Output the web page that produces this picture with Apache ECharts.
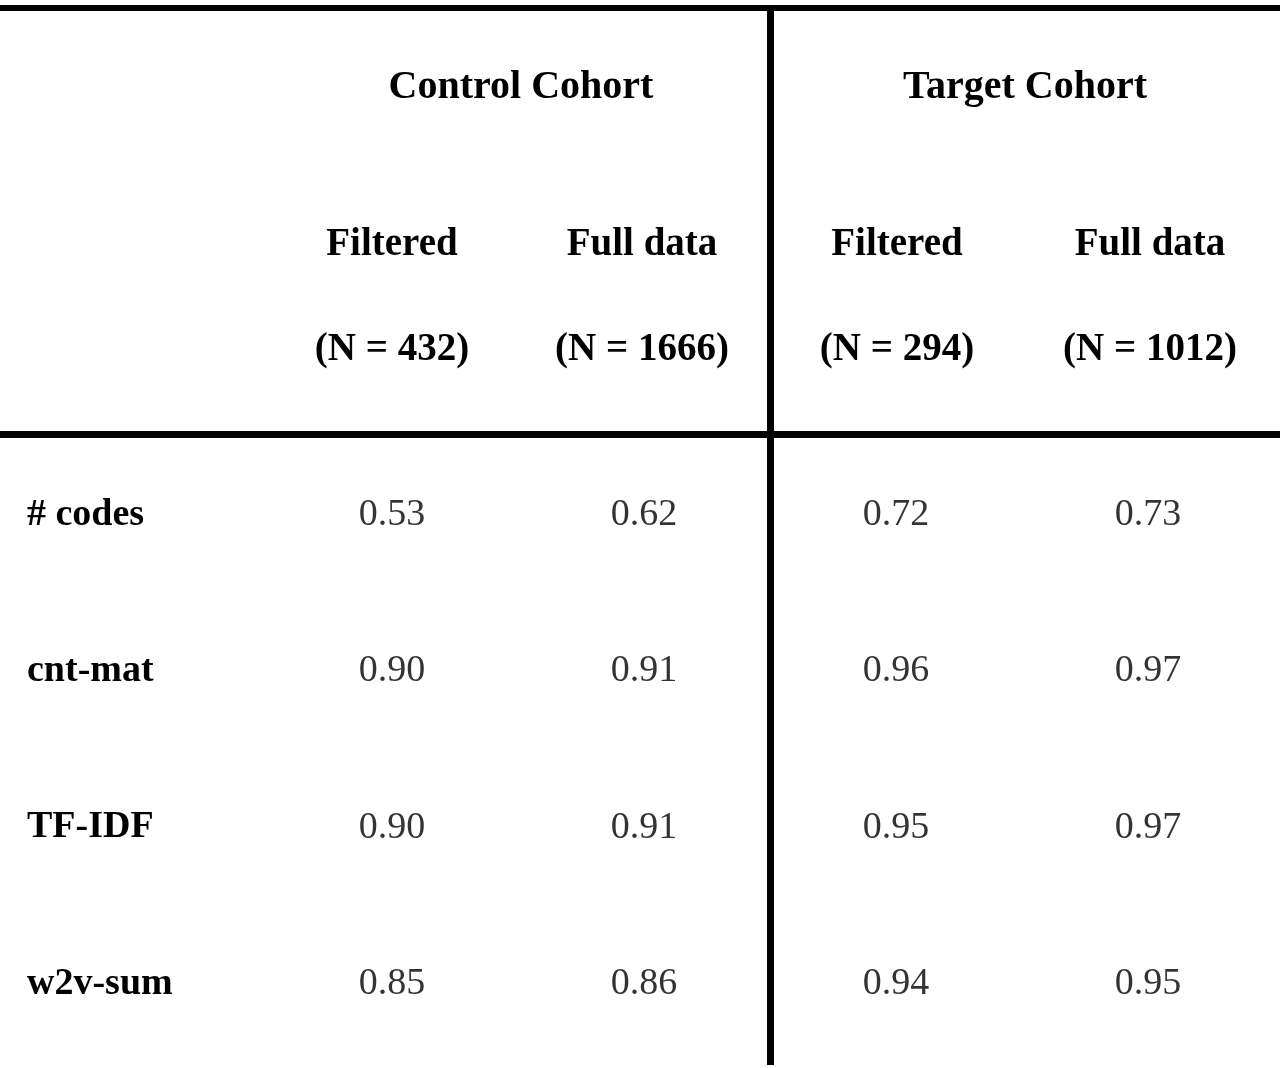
<!DOCTYPE html>
<html><head><meta charset="utf-8">
<script src="https://cdn.jsdelivr.net/npm/echarts@6/dist/echarts.min.js"></script>
<style>html,body{margin:0;padding:0;background:#fff}#c{width:1280px;height:1068px}</style>
</head><body><div id="c"></div>
<script>
const cohorts = ['Control Cohort', 'Target Cohort'];
const columns = ['Filtered', 'Full data', 'Filtered', 'Full data'];
const counts = ['(N = 432)', '(N = 1666)', '(N = 294)', '(N = 1012)'];
const rows = ['# codes', 'cnt-mat', 'TF-IDF', 'w2v-sum'];
const values = [
  [0.53, 0.62, 0.72, 0.73],
  [0.90, 0.91, 0.96, 0.97],
  [0.90, 0.91, 0.95, 0.97],
  [0.85, 0.86, 0.94, 0.95]
];
const font = '"Liberation Serif", "Times New Roman", serif';
const data = [];
values.forEach((r, i) => r.forEach((v, j) => data.push([j, i, v])));
const colX = [392, 642, 897, 1150];
const graphics = [
  {type:'rect', shape:{x:0,y:5,width:1280,height:6}, style:{fill:'#000'}},
  {type:'rect', shape:{x:0,y:431,width:1280,height:7}, style:{fill:'#000'}},
  {type:'rect', shape:{x:767,y:5,width:7,height:1060}, style:{fill:'#000'}}
];
[521, 1025].forEach((x, i) => graphics.push({type:'text', x:x, y:88, style:{text:cohorts[i], font:'bold 40px '+font, fill:'#000', align:'center', verticalAlign:'middle'}}));
colX.forEach((x, i) => {
  graphics.push({type:'text', x:x, y:245, style:{text:columns[i], font:'bold 39px '+font, fill:'#000', align:'center', verticalAlign:'middle'}});
  graphics.push({type:'text', x:x, y:350, style:{text:counts[i], font:'bold 39px '+font, fill:'#000', align:'center', verticalAlign:'middle'}});
});
const chart = echarts.init(document.getElementById('c'));
chart.setOption({
  animation:false,
  grid:{left:266, right:6, top:437, bottom:6},
  xAxis:{type:'category', data:columns.map((c,i)=>i), axisLine:{show:false}, axisTick:{show:false}, axisLabel:{show:false}, splitLine:{show:false}},
  yAxis:{type:'category', inverse:true, data:rows, axisLine:{show:false}, axisTick:{show:false}, splitLine:{show:false},
    axisLabel:{align:'left', margin:239, fontFamily:font, fontWeight:'bold', fontSize:38, color:'#000'}},
  series:[{type:'scatter', symbolSize:0, data:data,
    label:{show:true, position:'inside', formatter:p=>p.value[2].toFixed(2), fontFamily:font, fontSize:38, color:'#000'}}],
  graphic:graphics
});
</script></body></html>
